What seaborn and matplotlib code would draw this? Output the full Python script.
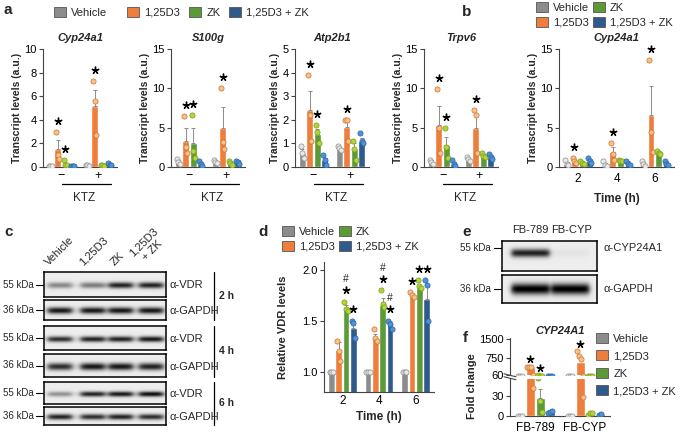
import numpy as np
import pandas as pd
import matplotlib
matplotlib.use('Agg')
import matplotlib.pyplot as plt
import seaborn as sns
from matplotlib.patches import Patch

sns.set_style('ticks')
plt.rcParams['font.family'] = ['Liberation Sans', 'DejaVu Sans']
plt.rcParams['axes.linewidth'] = 0.8
plt.rcParams['axes.edgecolor'] = '#444444'
plt.rcParams['xtick.color'] = '#444444'
plt.rcParams['ytick.color'] = '#444444'
plt.rcParams['xtick.labelcolor'] = 'black'
plt.rcParams['ytick.labelcolor'] = 'black'

# ---------------- data ----------------
conds = ['Vehicle', '1,25D3', 'ZK', '1,25D3 + ZK']
bar_colors = ['#8c8c8c', '#ef7d3c', '#5b9a37', '#2f5a8c']
pt_face = ['#e8e8e8', '#f7c283', '#b9d431', '#4d93d9']
pt_edge = ['#8c8c8c', '#c9703a', '#6f9a2a', '#2d5f9a']

ktz_groups = ['\u2212', '+']

# panel a, values per [group][condition]
cyp_mean = [[0.05, 1.5, 0.15, 0.05], [0.15, 5.2, 0.15, 0.2]]
cyp_sem = [[0.02, 0.8, 0.12, 0.02], [0.05, 1.3, 0.05, 0.08]]
cyp_pts = [[[0.05, 0.05, 0.05], [3.0, 1.0, 0.7], [0.6, 0.2, 0.15], [0.05, 0.05, 0.05]],
           [[0.2, 0.15, 0.1], [7.3, 5.6, 2.7], [0.2, 0.15, 0.1], [0.3, 0.2, 0.15]]]
cyp_sig = [[0, 1, 1, 0], [0, 1, 0, 0]]

s100_mean = [[0.7, 3.3, 3.0, 0.4], [0.7, 5.0, 0.5, 0.6]]
s100_sem = [[0.2, 1.7, 2.0, 0.2], [0.1, 2.6, 0.2, 0.2]]
s100_pts = [[[1.0, 0.6, 0.4], [6.5, 2.5, 1.8], [6.6, 2.0, 1.2], [0.8, 0.4, 0.1]],
            [[0.9, 0.6, 0.5], [10.1, 3.2, 2.3], [0.7, 0.5, 0.3], [0.8, 0.6, 0.4]]]
s100_sig = [[0, 1, 1, 0], [0, 1, 0, 0]]

atp_mean = [[0.6, 2.4, 1.4, 0.3], [0.8, 1.7, 0.75, 1.1]]
atp_sem = [[0.15, 0.8, 0.2, 0.1], [0.05, 0.2, 0.25, 0.15]]
atp_pts = [[[0.9, 0.6, 0.4], [3.9, 2.2, 1.1], [1.8, 1.5, 1.0], [0.5, 0.3, 0.1]],
           [[0.9, 0.8, 0.7], [2.0, 2.0, 1.1], [1.1, 0.75, 0.3], [1.45, 1.1, 1.0]]]
atp_sig = [[0, 1, 1, 0], [0, 1, 0, 0]]

trpv_mean = [[0.6, 5.4, 2.8, 0.4], [1.0, 5.0, 1.5, 1.3]]
trpv_sem = [[0.2, 2.3, 1.0, 0.2], [0.2, 1.7, 0.2, 0.15]]
trpv_pts = [[[0.9, 0.6, 0.4], [9.9, 5.0, 1.8], [5.0, 2.5, 1.2], [0.9, 0.4, 0.1]],
            [[1.3, 1.0, 0.8], [7.3, 6.6, 1.8], [1.8, 1.4, 1.3], [1.6, 1.3, 1.0]]]
trpv_sig = [[0, 1, 1, 0], [0, 1, 0, 0]]

# panel b
time_groups = ['2', '4', '6']
time_mean = [[0.4, 0.8, 0.6, 0.8], [0.3, 1.9, 0.8, 0.5], [0.4, 6.6, 1.8, 0.5]]
time_sem = [[0.2, 0.2, 0.1, 0.2], [0.15, 0.7, 0.1, 0.2], [0.2, 3.7, 0.1, 0.2]]
time_pts = [[[0.9, 0.4, 0.2], [1.2, 0.8, 0.5], [0.8, 0.5, 0.4], [1.1, 0.8, 0.5]],
            [[0.7, 0.3, 0.1], [3.1, 1.6, 0.9], [0.9, 0.8, 0.7], [0.8, 0.4, 0.2]],
            [[0.8, 0.4, 0.1], [13.6, 4.4, 1.9], [2.0, 1.8, 1.7], [0.8, 0.4, 0.2]]]
time_sig = [[0, 1, 0, 0], [0, 1, 0, 0], [0, 1, 0, 0]]

# panel c, band intensities per lane
lanes_c = ['Vehicle', '1,25D3', 'ZK', '1,25D3\n+ ZK']
vdr_2h = [0.45, 0.5, 0.9, 0.9]
gapdh_2h = [0.95, 0.95, 0.95, 0.95]
vdr_4h = [0.85, 0.9, 0.9, 0.95]
gapdh_4h = [0.85, 0.95, 0.95, 0.9]
vdr_6h = [0.4, 0.9, 0.95, 1.0]
gapdh_6h = [0.9, 0.85, 0.9, 0.85]

# panel d
vdr_mean = [[1.0, 1.21, 1.63, 1.43], [1.0, 1.33, 1.66, 1.46], [1.0, 1.75, 1.82, 1.72]]
vdr_sem = [[0.0, 0.08, 0.03, 0.04], [0.0, 0.04, 0.07, 0.04], [0.0, 0.02, 0.03, 0.12]]
vdr_pts = [[[1.0, 1.0, 1.0], [1.3, 1.2, 1.11], [1.69, 1.62, 1.6], [1.5, 1.48, 1.33]],
           [[1.0, 1.0, 1.0], [1.42, 1.33, 1.3], [1.8, 1.67, 1.64], [1.5, 1.47, 1.42]],
           [[1.0, 1.0, 1.0], [1.78, 1.76, 1.74], [1.9, 1.84, 1.82], [1.9, 1.85, 1.5]]]
vdr_sig = [[0, 0, 1, 1], [0, 0, 1, 1], [0, 1, 1, 1]]
vdr_hash = [[0, 0, 1, 0], [0, 0, 1, 1], [0, 0, 0, 0]]

# panel e
lanes_e = ['FB-789', 'FB-CYP']
cyp_band = [0.9, 0.04]
gapdh_band = [1.0, 1.0]

# panel f
f_groups = ['FB-789', 'FB-CYP']
f_mean = [[0.3, 390, 27, 6], [0.3, 580, 3.5, 2.5]]
f_sem = [[0.1, 0, 13, 1.5], [0.1, 0, 1.0, 0.8]]
f_pts = [[[0.5, 0.3, 0.2], [395, 390, 385, 42], [57, 22, 6], [4, 6, 8]],
         [[0.5, 0.3, 0.2], [1020, 830, 700, 28], [2, 5, 4], [1, 3]]]
f_sig_low = [[0, 0, 1, 0], [0, 0, 0, 0]]
f_sig_up = [[0, 1, 0, 0], [0, 1, 0, 0]]

# ---------------- figure ----------------
W, H = 684, 434
fig = plt.figure(figsize=(W / 100, H / 100), dpi=100)


def box(x0, y0, x1, y1):
    return fig.add_axes([x0 / W, 1 - y1 / H, (x1 - x0) / W, (y1 - y0) / H])


def ftext(x, y, s, **kw):
    fig.text(x / W, 1 - y / H, s, **kw)


def bar_panel(ax, groups, mean, sem, pts, sig, ylim, pad=0.09, hashes=None):
    rows = [(g, c, mean[i][j]) for i, g in enumerate(groups) for j, c in enumerate(conds)]
    df = pd.DataFrame(rows, columns=['group', 'cond', 'value'])
    sns.barplot(data=df, x='group', y='value', hue='cond', order=groups, hue_order=conds,
                palette=bar_colors, errorbar=None, width=0.8, gap=0.1, saturation=1,
                legend=False, ax=ax)
    rng = ylim[1] - ylim[0]
    for i in range(len(groups)):
        for j in range(4):
            x = i - 0.3 + 0.2 * j
            m, s = mean[i][j], sem[i][j]
            if s > 0:
                ax.errorbar(x, m, yerr=[[0], [s]], color='#8c8c8c', lw=0.7,
                            capsize=1.6, capthick=0.7, zorder=3)
            p = pts[i][j]
            n = len(p)
            xs = [x + (k - (n - 1) / 2) * 0.045 for k in range(n)]
            ax.scatter(xs, p, s=14, color=pt_face[j], edgecolor=pt_edge[j], lw=0.5, zorder=4)
            if sig[i][j]:
                ys = max(max(p), m + s) + pad * rng
                ax.plot(x, ys, marker=(5, 2, 0), ms=5.5, mew=1.0, color='k', clip_on=False, zorder=5)
                if hashes is not None and hashes[i][j]:
                    ax.text(x, ys + 0.085 * rng, '#', ha='center', va='center', fontsize=7.5)
    ax.set_xlim(-0.5, len(groups) - 0.5)
    ax.set_ylim(*ylim)
    ax.set_xlabel('')
    ax.set_ylabel('')
    sns.despine(ax=ax)
    ax.tick_params(axis='x', length=0, labelsize=9, pad=2)
    ax.tick_params(axis='y', length=3, width=0.8, labelsize=8, pad=1.5)


def ktz(ax):
    ax.plot([0.25, 0.92], [-0.14, -0.14], color='k', lw=0.9, transform=ax.transAxes, clip_on=False)
    ax.text(0.55, -0.26, 'KTZ', transform=ax.transAxes, ha='center', va='center', fontsize=8.5)


def blot(ax, inten, lanes, yc=0.55, thick=0.1, half=0.1, dark=0.85):
    h, w = 80, 240
    y = np.linspace(0, 1, h)[:, None]
    x = np.linspace(0, 1, w)[None, :]
    img = np.full((h, w), 0.93)
    for cx, a in zip(lanes, inten):
        px = 1 / (1 + np.exp(-(x - (cx - half)) / 0.015)) / (1 + np.exp((x - (cx + half)) / 0.015))
        py = np.exp(-((y - yc) / thick) ** 2)
        img -= dark * a * px * py
    ax.imshow(np.clip(img, 0, 1), cmap='gray', vmin=0, vmax=1, aspect='auto',
              extent=(0, 1, 1, 0), interpolation='bilinear')
    ax.set_xticks([])
    ax.set_yticks([])
    for s in ax.spines.values():
        s.set_visible(True)
        s.set_linewidth(1.1)
        s.set_color('black')


leg_handles = [Patch(facecolor=c, edgecolor='#555555', lw=0.6) for c in bar_colors]
leg_kw = dict(fontsize=8, frameon=False, handlelength=1.1, handleheight=1.0,
              handletextpad=0.45, borderpad=0, borderaxespad=0, loc='upper left')

# ---------------- panel a ----------------
a_specs = [
    (43, 'Cyp24a1', cyp_mean, cyp_sem, cyp_pts, cyp_sig, (0, 10), [0, 2, 4, 6, 8, 10]),
    (171, 'S100g', s100_mean, s100_sem, s100_pts, s100_sig, (0, 15), [0, 5, 10, 15]),
    (295, 'Atp2b1', atp_mean, atp_sem, atp_pts, atp_sig, (0, 5), [0, 1, 2, 3, 4, 5]),
    (424, 'Trpv6', trpv_mean, trpv_sem, trpv_pts, trpv_sig, (0, 15), [0, 5, 10, 15]),
]
for x0, title, m, s, p, sg, yl, yt in a_specs:
    ax = box(x0, 49, x0 + 74, 167)
    bar_panel(ax, ktz_groups, m, s, p, sg, yl)
    ax.set_yticks(yt)
    ax.set_title(title, fontsize=8, fontweight='bold', style='italic', pad=6)
    ax.set_ylabel('Transcript levels (a.u.)', fontsize=7.5, fontweight='bold', labelpad=2)
    ktz(ax)

ftext(4, 10, 'a', fontsize=11, fontweight='bold', va='center')
# one legend entry per slot, as in the original layout
for xl, h, lab in zip([54, 127, 189, 229], leg_handles, conds):
    fig.legend(handles=[h], labels=[lab], bbox_to_anchor=(xl / W, 1 - 7 / H), **leg_kw)

# ---------------- panel b ----------------
axb = box(559, 49, 674, 167)
bar_panel(axb, time_groups, time_mean, time_sem, time_pts, time_sig, (0, 15))
axb.set_yticks([0, 5, 10, 15])
axb.set_title('Cyp24a1', fontsize=8, fontweight='bold', style='italic', pad=6)
axb.set_ylabel('Transcript levels (a.u.)', fontsize=7.5, fontweight='bold', labelpad=2)
axb.set_xlabel('Time (h)', fontsize=8.5, fontweight='bold', labelpad=6)
axb.tick_params(axis='x', labelsize=8.5, pad=4)
ftext(462, 12, 'b', fontsize=11, fontweight='bold', va='center')
fig.legend(handles=leg_handles, labels=conds, bbox_to_anchor=(536 / W, 1 - 2 / H),
           ncol=2, columnspacing=0.3, labelspacing=0.35, **leg_kw)

# ---------------- panel c ----------------
ftext(4, 232, 'c', fontsize=11, fontweight='bold', va='center')
lane_pos = [0.13, 0.40, 0.63, 0.88]
c_rows = [
    (272, 297, vdr_2h, 'VDR', '55 kDa'), (300, 320, gapdh_2h, 'GAPDH', '36 kDa'),
    (326, 350, vdr_4h, 'VDR', '55 kDa'), (354, 377, gapdh_4h, 'GAPDH', '36 kDa'),
    (382, 404, vdr_6h, 'VDR', '55 kDa'), (407, 425, gapdh_6h, 'GAPDH', '36 kDa'),
]
for y0, y1, inten, prot, kda in c_rows:
    axc = box(44, y0, 166, y1)
    if prot == 'VDR':
        blot(axc, inten, lane_pos, yc=0.55, thick=0.12, half=0.1, dark=0.9)
    else:
        blot(axc, inten, lane_pos, yc=0.55, thick=0.16, half=0.1, dark=0.9)
    yb = y0 + 0.5 * (y1 - y0)
    ftext(34, yb, kda, fontsize=7, ha='right', va='center')
    fig.add_artist(plt.Line2D([36 / W, 43 / W], [1 - yb / H, 1 - yb / H], color='k', lw=0.8))
    ftext(170, yb + 1, '\u03b1-' + prot, fontsize=8, ha='left', va='center')

for (y0, y1), lab in zip([(272, 320), (326, 377), (382, 425)], ['2 h', '4 h', '6 h']):
    fig.add_artist(plt.Line2D([214 / W, 214 / W], [1 - y0 / H, 1 - y1 / H], color='k', lw=0.9))
    ftext(219, (y0 + y1) / 2, lab, fontsize=7.5, fontweight='bold', ha='left', va='center')

for xl, lab in zip([50, 84, 116, 143], lanes_c):
    ftext(xl, 267, lab, fontsize=8, rotation=45, rotation_mode='anchor', ha='left', va='bottom',
          multialignment='center')

# ---------------- panel d ----------------
ftext(258, 232, 'd', fontsize=11, fontweight='bold', va='center')
axd = box(324, 262, 434, 392)
bar_panel(axd, time_groups, vdr_mean, vdr_sem, vdr_pts, vdr_sig, (0.8, 2.08), hashes=vdr_hash)
axd.set_yticks([1.0, 1.5, 2.0])
axd.set_yticklabels(['1.0', '1.5', '2.0'])
axd.set_ylabel('Relative VDR levels', fontsize=8, fontweight='bold', labelpad=10)
axd.set_xlabel('Time (h)', fontsize=8.5, fontweight='bold', labelpad=3)
axd.tick_params(axis='x', labelsize=8.5)
fig.legend(handles=leg_handles, labels=conds, bbox_to_anchor=(282 / W, 1 - 226 / H),
           ncol=2, columnspacing=0.3, labelspacing=0.35, **leg_kw)

# ---------------- panel e ----------------
ftext(462, 232, 'e', fontsize=11, fontweight='bold', va='center')
lane_e = [0.3, 0.72]
axe1 = box(502, 241, 597, 271)
blot(axe1, cyp_band, lane_e, yc=0.4, thick=0.14, half=0.2, dark=0.9)
axe2 = box(502, 275, 597, 303)
blot(axe2, gapdh_band, lane_e, yc=0.5, thick=0.2, half=0.2, dark=0.95)
for xl, lab in zip([530, 572], lanes_e):
    ftext(xl, 230, lab, fontsize=8, ha='center', va='center')
for yb, kda, prot in [(248, '55 kDa', 'CYP24A1'), (289, '36 kDa', 'GAPDH')]:
    ftext(491, yb, kda, fontsize=7, ha='right', va='center')
    fig.add_artist(plt.Line2D([494 / W, 501 / W], [1 - yb / H, 1 - yb / H], color='k', lw=0.8))
    ftext(604, yb, '\u03b1-' + prot, fontsize=8, ha='left', va='center')

# ---------------- panel f ----------------
ftext(463, 338, 'f', fontsize=11, fontweight='bold', va='center')
axf_up = box(510, 338, 610, 375)
axf_lo = box(510, 379, 610, 416)
bar_panel(axf_up, f_groups, f_mean, f_sem, f_pts, f_sig_up, (60, 1540), pad=0.2)
bar_panel(axf_lo, f_groups, f_mean, f_sem, f_pts, f_sig_low, (0, 55.5), pad=0.27)
axf_up.set_yticks([60, 750, 1500])
axf_up.spines['bottom'].set_visible(False)
axf_up.set_xticks([])
axf_lo.set_yticks([0, 30])
axf_lo.tick_params(axis='x', labelsize=8.5, pad=4)
axf_up.set_title('CYP24A1', fontsize=8, fontweight='bold', style='italic', pad=3)
for yy in (1.02, 1.1):
    axf_lo.plot([-0.06, 0.06], [yy + 0.04, yy - 0.04], transform=axf_lo.transAxes,
                color='#444444', lw=0.8, clip_on=False)
ftext(472, 386, 'Fold change', fontsize=8, fontweight='bold', rotation=90, ha='center', va='center')
fig.legend(handles=leg_handles, labels=conds, bbox_to_anchor=(596 / W, 1 - 333 / H),
           ncol=1, labelspacing=0.6, **leg_kw)

fig.savefig('out.png', dpi=100)
